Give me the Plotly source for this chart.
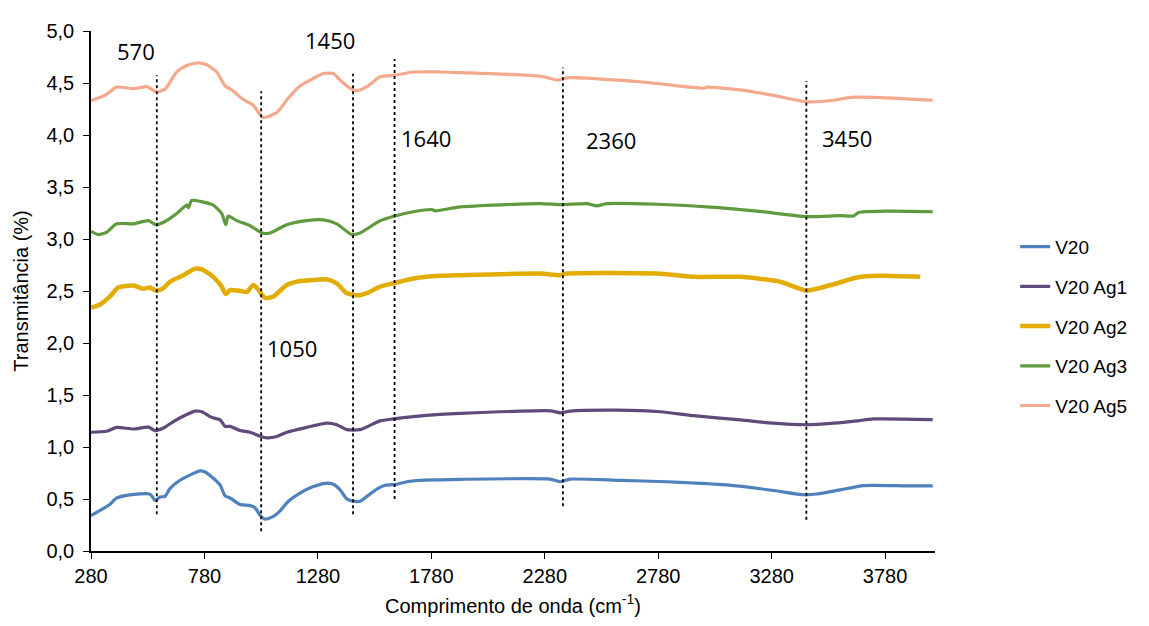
import plotly.graph_objects as go

# ---------------- data ----------------
wn_v20 = [280, 364, 393, 452, 533, 548, 562, 584, 606, 628, 672, 716, 760, 783, 819, 849, 871, 893, 937, 981,
          1003, 1025, 1047, 1084, 1113, 1150, 1201, 1260, 1312, 1348, 1378, 1407, 1436, 1466, 1496, 1540, 1576,
          1628, 1672, 1731, 1819, 1907, 2304, 2348, 2392, 2612, 2818, 2936, 3083, 3288, 3421, 3480, 3582, 3685,
          3876, 3990]
t_v20 = [0.34, 0.45, 0.51, 0.54, 0.55, 0.53, 0.485, 0.52, 0.525, 0.60, 0.68, 0.73, 0.77, 0.76, 0.70, 0.635,
         0.53, 0.51, 0.447, 0.438, 0.416, 0.344, 0.307, 0.332, 0.385, 0.478, 0.557, 0.619, 0.651, 0.642, 0.588,
         0.501, 0.478, 0.478, 0.525, 0.595, 0.632, 0.642, 0.666, 0.679, 0.684, 0.689, 0.691, 0.666, 0.691, 0.679,
         0.666, 0.654, 0.635, 0.582, 0.541, 0.548, 0.588, 0.629, 0.626, 0.626]

wn_ag1 = [280, 349, 393, 467, 533, 562, 599, 643, 702, 739, 768, 812, 849, 871, 893, 937, 981, 1025, 1055, 1099,
          1143, 1231, 1319, 1363, 1407, 1466, 1554, 1613, 1701, 1819, 1907, 2304, 2348, 2392, 2598, 2789, 2936,
          3142, 3288, 3435, 3553, 3656, 3729, 3990]
t_ag1 = [1.142, 1.151, 1.189, 1.173, 1.191, 1.158, 1.182, 1.245, 1.313, 1.345, 1.339, 1.285, 1.261, 1.198, 1.198,
         1.158, 1.142, 1.104, 1.088, 1.101, 1.142, 1.189, 1.229, 1.214, 1.167, 1.167, 1.251, 1.27, 1.292, 1.313,
         1.323, 1.348, 1.329, 1.345, 1.354, 1.339, 1.301, 1.261, 1.229, 1.214, 1.229, 1.251, 1.27, 1.264]

wn_ag2 = [280, 320, 364, 400, 467, 511, 540, 567, 599, 628, 687, 739, 768, 819, 856, 874, 893, 937, 966, 996, 1018,
          1047, 1084, 1143, 1201, 1260, 1319, 1363, 1407, 1451, 1496, 1554, 1613, 1701, 1819, 1907, 2260, 2348,
          2377, 2774, 2936, 3142, 3318, 3435, 3553, 3656, 3759, 3935]
t_ag2 = [2.34, 2.371, 2.448, 2.533, 2.552, 2.521, 2.533, 2.502, 2.527, 2.589, 2.652, 2.715, 2.708, 2.636, 2.542,
         2.471, 2.508, 2.502, 2.49, 2.558, 2.511, 2.433, 2.448, 2.558, 2.596, 2.605, 2.612, 2.574, 2.48, 2.458,
         2.48, 2.542, 2.574, 2.621, 2.646, 2.652, 2.668, 2.652, 2.668, 2.668, 2.636, 2.636, 2.589, 2.505, 2.565,
         2.63, 2.646, 2.636]

wn_ag3 = [280, 312, 349, 393, 467, 533, 567, 606, 658, 702, 709, 724, 761, 819, 856, 874, 885, 922, 981, 1033,
          1069, 1143, 1231, 1304, 1363, 1429, 1466, 1554, 1620, 1701, 1782, 1796, 1907, 2260, 2348, 2465, 2509,
          2553, 2774, 2994, 3215, 3435, 3582, 3641, 3663, 3803, 3990]
t_ag3 = [3.074, 3.043, 3.065, 3.146, 3.146, 3.177, 3.137, 3.168, 3.246, 3.325, 3.300, 3.371, 3.362, 3.325, 3.246,
         3.137, 3.221, 3.177, 3.128, 3.058, 3.058, 3.137, 3.177, 3.184, 3.146, 3.043, 3.058, 3.175, 3.221, 3.262,
         3.283, 3.271, 3.309, 3.34, 3.33, 3.34, 3.318, 3.34, 3.334, 3.309, 3.268, 3.215, 3.224, 3.221, 3.255,
         3.268, 3.262]

wn_ag5 = [280, 342, 393, 467, 526, 570, 606, 658, 702, 753, 790, 834, 871, 900, 951, 996, 1037, 1099, 1150, 1201,
          1260, 1304, 1348, 1378, 1422, 1451, 1496, 1554, 1620, 1701, 1819, 1907, 2260, 2340, 2377, 2700, 2921,
          2980, 2994, 3142, 3288, 3435, 3553, 3627, 3729, 3990]
t_ag5 = [4.331, 4.381, 4.46, 4.444, 4.465, 4.413, 4.441, 4.606, 4.669, 4.694, 4.675, 4.606, 4.472, 4.434, 4.341,
         4.284, 4.169, 4.216, 4.356, 4.472, 4.544, 4.591, 4.591, 4.528, 4.45, 4.425, 4.465, 4.559, 4.575, 4.606,
         4.606, 4.6, 4.566, 4.528, 4.55, 4.512, 4.46, 4.45, 4.46, 4.434, 4.381, 4.319, 4.334, 4.362, 4.362, 4.334]

series_names = ["V20", "V20 Ag1", "V20 Ag2", "V20 Ag3", "V20 Ag5"]
series_colors = ["#4F81BD", "#604A7B", "#E3AC00", "#5F9A3E", "#F4A88C"]
series_widths = [3.2, 3.2, 4.5, 3.2, 3.2]

# reference (dotted) lines: position, bottom, top
ref_x = [570, 1030, 1435, 1618, 2360, 3433]
ref_bottom = [0.354, 0.19, 0.354, 0.50, 0.43, 0.30]
ref_top = [4.575, 4.42, 4.59, 4.73, 4.65, 4.52]

# band labels
label_text = ["570", "1050", "1450", "1640", "2360", "3450"]
label_x = [478, 1166, 1334, 1757, 2573, 3613]
label_y = [4.81, 1.95, 4.91, 3.97, 3.95, 3.97]

x_tick_start = 280
x_tick_step = 500

# ---------------- figure ----------------
fig = go.Figure()
all_x = [wn_v20, wn_ag1, wn_ag2, wn_ag3, wn_ag5]
all_y = [t_v20, t_ag1, t_ag2, t_ag3, t_ag5]
for i, name in enumerate(series_names):
    fig.add_trace(go.Scatter(
        x=all_x[i], y=all_y[i], mode="lines", name=name,
        line=dict(color=series_colors[i], width=series_widths[i], shape="spline", smoothing=0.6),
        legendgroup=name,
    ))

for xv, y0, y1 in zip(ref_x, ref_bottom, ref_top):
    fig.add_shape(type="line", xref="x", yref="y", x0=xv, x1=xv, y0=y0, y1=y1,
                  line=dict(color="black", width=1.8, dash="dot"))

for t, xv, yv in zip(label_text, label_x, label_y):
    fig.add_annotation(x=xv, y=yv, xref="x", yref="y", text=t, showarrow=False,
                       font=dict(family="Open Sans", size=22, color="black"))

fig.update_layout(
    width=1141, height=618,
    margin=dict(l=83, r=214, t=12, b=73),
    plot_bgcolor="white", paper_bgcolor="white",
    separators=",.",
    font=dict(family="Liberation Sans, Arial", size=19, color="black"),
    showlegend=True,
    legend=dict(x=1.095, y=0.432, xanchor="left", yanchor="middle",
                font=dict(size=19), tracegroupgap=12, bgcolor="rgba(0,0,0,0)"),
    xaxis=dict(range=[280, 4000], tick0=x_tick_start, dtick=x_tick_step, tickformat="d",
               showline=True, linecolor="black", linewidth=1.5, ticks="outside", ticklen=6,
               tickcolor="black", showgrid=False, zeroline=False, tickfont=dict(size=20),
               title=dict(text="Comprimento de onda (cm<sup>-1</sup>)", standoff=13,
                          font=dict(size=20))),
    yaxis=dict(range=[0, 5], dtick=0.5, tickformat=".1f", ticklabelstandoff=5,
               showline=True, linecolor="black", linewidth=1.5, ticks="outside", ticklen=6,
               tickcolor="black", showgrid=False, zeroline=False, tickfont=dict(size=20),
               title=dict(text="Transmitância (%)", standoff=12, font=dict(size=20))),
)

fig.write_html("out.html")
